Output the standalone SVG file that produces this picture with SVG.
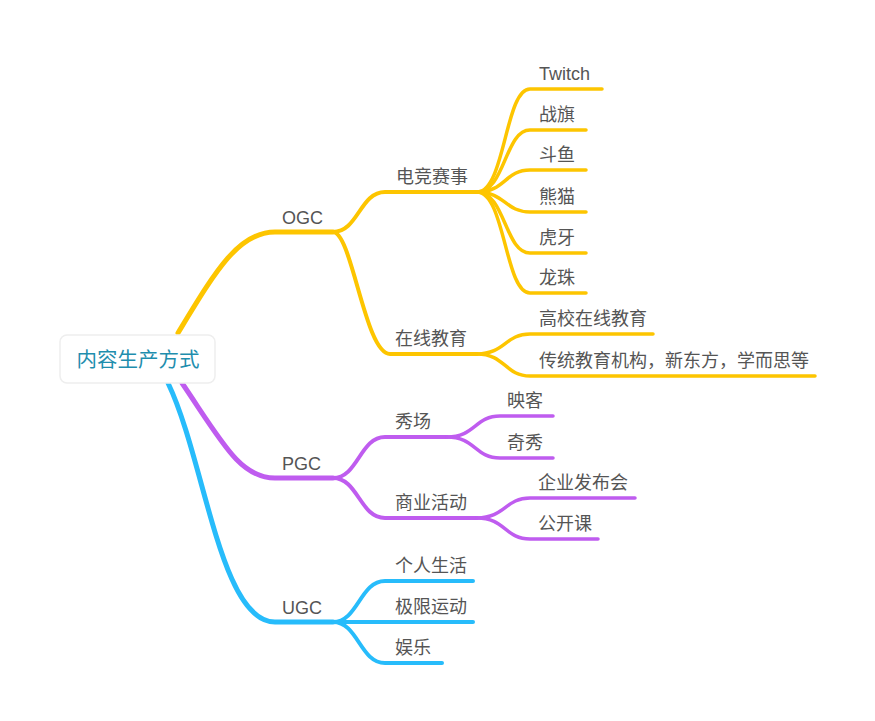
<svg xmlns="http://www.w3.org/2000/svg" width="875" height="721" viewBox="0 0 875 721">
<style>
.t{font-family:"Liberation Sans","Noto Sans CJK SC",sans-serif;font-size:18px;fill:#555555}
.root{font-family:"Liberation Sans","Noto Sans CJK SC",sans-serif;font-size:20.5px;fill:#1f8eae}
.c{fill:none;stroke-linecap:round}
.y{stroke:#FDC500}
.p{stroke:#BF5CEF}
.b{stroke:#27BCFB}
.w1{stroke-width:5}
.w2{stroke-width:4}
.w3{stroke-width:3.5}
</style>
<rect width="875" height="721" fill="#ffffff"/>
<g id="connectors">
<path class="c y w1" d="M178,333 C215,272 238,232 275,232 L333,232"/>
<path class="c p w1" d="M182,383 C222,442 240,478 275,478 L333,478"/>
<path class="c b w1" d="M168,383 C205,460 220,622 275,622 L333,622"/>
<path class="c y w2" d="M333,232 C358,232 360,192 385,192 L477,192"/>
<path class="c y w2" d="M333,232 C352,232 365,354 390,354 L477,354"/>
<path class="c y w3" d="M477,192 C505,192 505,89 530,89 L602,89"/>
<path class="c y w3" d="M477,192 C505,192 505,130 530,130 L586,130"/>
<path class="c y w3" d="M477,192 C505,192 505,170 530,170 L586,170"/>
<path class="c y w3" d="M477,192 C505,192 505,212 530,212 L586,212"/>
<path class="c y w3" d="M477,192 C505,192 505,253 530,253 L586,253"/>
<path class="c y w3" d="M477,192 C505,192 505,293 530,293 L586,293"/>
<path class="c y w3" d="M477,354 C505,354 505,334 530,334 L653,334"/>
<path class="c y w3" d="M477,354 C505,354 505,376 530,376 L815,376"/>
<path class="c p w2" d="M333,478 C358,478 360,437 385,437 L447,437"/>
<path class="c p w2" d="M333,478 C358,478 360,518 385,518 L477,518"/>
<path class="c p w3" d="M447,437 C475,437 475,416 500,416 L553,416"/>
<path class="c p w3" d="M447,437 C475,437 475,458 500,458 L553,458"/>
<path class="c p w3" d="M477,518 C505,518 505,498 530,498 L635,498"/>
<path class="c p w3" d="M477,518 C505,518 505,539 530,539 L598,539"/>
<path class="c b w2" d="M333,622 C358,622 360,581 385,581 L473,581"/>
<path class="c b w2" d="M333,622 L473,622"/>
<path class="c b w2" d="M333,622 C358,622 360,663 385,663 L442,663"/>
</g>
<g id="root">
<rect x="60" y="335" width="155" height="48" rx="7" fill="#ffffff" stroke="#eeeeee" stroke-width="1.5"/>
<text class="root" x="138" y="367" text-anchor="middle">内容生产方式</text>
</g>
<g id="ogc"><text class="t" x="282" y="224">OGC</text></g>
<g id="dianjing"><text class="t" x="396" y="183">电竞赛事</text></g>
<g id="twitch"><text class="t" x="539" y="80">Twitch</text></g>
<g id="zhanqi"><text class="t" x="539" y="121">战旗</text></g>
<g id="douyu"><text class="t" x="539" y="161">斗鱼</text></g>
<g id="xiongmao"><text class="t" x="539" y="203">熊猫</text></g>
<g id="huya"><text class="t" x="539" y="244">虎牙</text></g>
<g id="longzhu"><text class="t" x="539" y="284">龙珠</text></g>
<g id="zaixian"><text class="t" x="395" y="345">在线教育</text></g>
<g id="gaoxiao"><text class="t" x="539" y="325">高校在线教育</text></g>
<g id="chuantong"><text class="t" x="539" y="367">传统教育机构，新东方，学而思等</text></g>
<g id="pgc"><text class="t" x="282" y="470">PGC</text></g>
<g id="xiuchang"><text class="t" x="395" y="428">秀场</text></g>
<g id="yingke"><text class="t" x="507" y="407">映客</text></g>
<g id="qixiu"><text class="t" x="507" y="449">奇秀</text></g>
<g id="shangye"><text class="t" x="395" y="509">商业活动</text></g>
<g id="qiye"><text class="t" x="538" y="489">企业发布会</text></g>
<g id="gongkai"><text class="t" x="538" y="530">公开课</text></g>
<g id="ugc"><text class="t" x="282" y="614">UGC</text></g>
<g id="geren"><text class="t" x="395" y="572">个人生活</text></g>
<g id="jixian"><text class="t" x="395" y="613">极限运动</text></g>
<g id="yule"><text class="t" x="395" y="654">娱乐</text></g>
</svg>
